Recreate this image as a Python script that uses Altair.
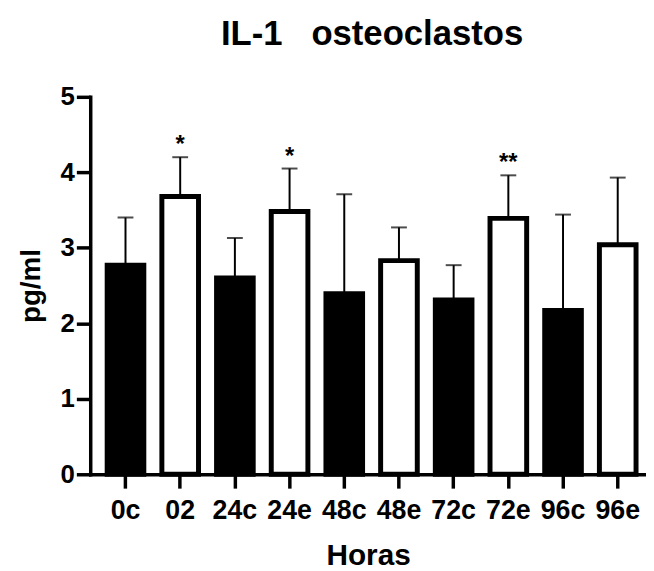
import altair as alt
import pandas as pd

categories = ["0c", "02", "24c", "24e", "48c", "48e", "72c", "72e", "96c", "96e"]
means = [2.77, 3.68, 2.60, 3.48, 2.39, 2.83, 2.31, 3.39, 2.17, 3.04]
sds = [0.63, 0.52, 0.53, 0.57, 1.32, 0.44, 0.46, 0.57, 1.27, 0.89]
fills = ["black", "white", "black", "white", "black", "white", "black", "white", "black", "white"]
stars = ["", "*", "", "*", "", "", "", "**", "", ""]

df = pd.DataFrame({
    "cat": categories,
    "mean": means,
    "top": [m + s for m, s in zip(means, sds)],
    "fill": fills,
    "star": stars,
})

FONT = "Liberation Sans"

x = alt.X(
    "cat:N", sort=categories,
    scale=alt.Scale(paddingInner=0.33, paddingOuter=0.246, align=0.63),
    axis=alt.Axis(title="Horas", labelAngle=0, tickSize=14, tickWidth=3.5,
                  domainWidth=3.5, labelPadding=10, labelFontSize=27,
                  titleFontSize=30, titlePadding=17),
)
yscale = alt.Scale(domain=[0, 5], nice=False)
yaxis = alt.Axis(title="pg/ml", values=[0, 1, 2, 3, 4, 5], format="d", tickSize=14,
                 tickWidth=3.5, domainWidth=3.5, labelPadding=2, labelFontSize=26,
                 titleFontSize=28, titlePadding=15, grid=False)

base = alt.Chart(df)

bars = base.mark_bar(stroke="black", strokeWidth=5, strokeJoin="miter").encode(
    x=x,
    y=alt.Y("mean:Q", scale=yscale, axis=yaxis),
    fill=alt.Fill("fill:N", scale=None),
)

err = base.mark_rule(color="black", strokeWidth=2).encode(
    x=alt.X("cat:N", sort=categories),
    y=alt.Y("mean:Q"),
    y2="top:Q",
)

caps = base.mark_tick(color="black", thickness=2, size=16).encode(
    x=alt.X("cat:N", sort=categories),
    y=alt.Y("top:Q"),
)

txt = base.mark_text(baseline="alphabetic", dy=-5, fontSize=24, fontWeight="bold",
                     font=FONT, color="black").encode(
    x=alt.X("cat:N", sort=categories),
    y=alt.Y("top:Q"),
    text="star:N",
)

chart = alt.layer(bars, err, caps, txt).properties(
    width=561,
    height=381,
    title=alt.TitleParams("IL-1\u00a0\u00a0\u00a0osteoclastos", fontSize=35, fontWeight="bold",
                          font=FONT, anchor="middle", offset=32, dx=4, color="black"),
    autosize=alt.AutoSizeParams(type="none"),
    padding={"left": 83, "top": 87, "right": 0, "bottom": 97},
).configure_view(stroke=None).configure_axis(
    domainColor="black", tickColor="black", labelColor="black", titleColor="black",
    labelFont=FONT, titleFont=FONT, labelFontWeight="bold", titleFontWeight="bold",
    domainCap="square",
)

chart.save("out.html", embed_options={"renderer": "svg", "actions": False})
